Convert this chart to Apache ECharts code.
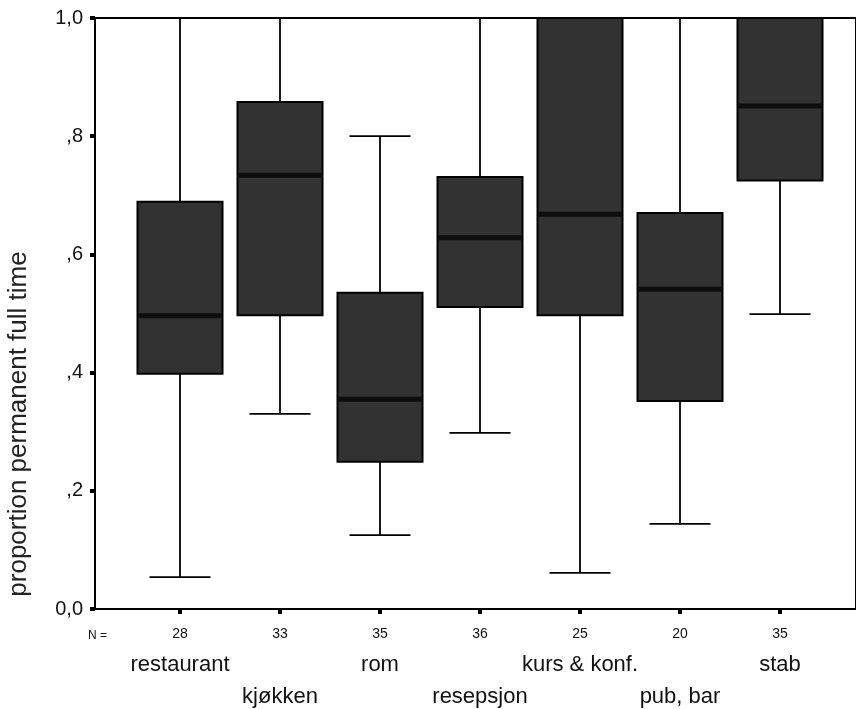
<!DOCTYPE html>
<html>
<head>
<meta charset="utf-8">
<script src="https://cdn.jsdelivr.net/npm/echarts@6/dist/echarts.min.js"></script>
<style>
    html, body { margin: 0; padding: 0; background: #fff; }
    #boxChart { width: 856px; height: 709px; }
</style>
</head>
<body>
<div id="boxChart"></div>
<script>
// categories and counts (N) under the axis
var categories = ['restaurant', 'kjøkken', 'rom', 'resepsjon', 'kurs & konf.', 'pub, bar', 'stab'];
var counts = [28, 33, 35, 36, 25, 20, 35];
// box plot values
var whiskerLow  = [0.054, 0.330, 0.125, 0.298, 0.061, 0.144, 0.499];
var q1          = [0.398, 0.497, 0.249, 0.511, 0.497, 0.352, 0.725];
var median      = [0.496, 0.734, 0.355, 0.628, 0.668, 0.541, 0.851];
var q3          = [0.689, 0.858, 0.535, 0.731, 1.000, 0.670, 1.000];
var whiskerHigh = [1.000, 1.000, 0.800, 1.000, 1.000, 1.000, 1.000];
var positions = [1, 2, 3, 4, 5, 6, 7];

var boxData = categories.map(function (c, i) {
    return [positions[i], whiskerLow[i], q1[i], median[i], q3[i], whiskerHigh[i]];
});

var boxChart = echarts.init(document.getElementById('boxChart'));

function renderBox(params, api) {
    var x = api.value(0);
    var lo = api.coord([x, api.value(1)]);
    var b1 = api.coord([x, api.value(2)]);
    var md = api.coord([x, api.value(3)]);
    var b3 = api.coord([x, api.value(4)]);
    var hi = api.coord([x, api.value(5)]);
    var unit = api.size([1, 0])[0];
    var boxW = unit * 0.85;
    var capW = unit * 0.61;
    var cx = lo[0];
    var lineStyle = { stroke: '#000', lineWidth: 1.8 };
    return {
        type: 'group',
        children: [
            { type: 'line', shape: { x1: cx, y1: hi[1], x2: cx, y2: b3[1] }, style: lineStyle },
            { type: 'line', shape: { x1: cx, y1: b1[1], x2: cx, y2: lo[1] }, style: lineStyle },
            { type: 'line', shape: { x1: cx - capW / 2, y1: hi[1], x2: cx + capW / 2, y2: hi[1] }, style: lineStyle },
            { type: 'line', shape: { x1: cx - capW / 2, y1: lo[1], x2: cx + capW / 2, y2: lo[1] }, style: lineStyle },
            {
                type: 'rect',
                shape: { x: cx - boxW / 2, y: b3[1], width: boxW, height: b1[1] - b3[1] },
                style: { fill: '#323232', stroke: '#000', lineWidth: 2 }
            },
            {
                type: 'line',
                shape: { x1: cx - boxW / 2 + 1, y1: md[1], x2: cx + boxW / 2 - 1, y2: md[1] },
                style: { stroke: '#0d0d0d', lineWidth: 5 }
            }
        ]
    };
}

var labelFont = 'Liberation Sans, Arial, sans-serif';

var option = {
    backgroundColor: '#fff',
    animation: false,
    grid: {
        left: 95,
        right: 0,
        top: 18,
        bottom: 100,
        show: true,
        borderColor: '#000',
        borderWidth: 2
    },
    xAxis: {
        type: 'value',
        min: 0.15,
        max: 7.76,
        splitLine: { show: false },
        axisLine: { lineStyle: { color: '#000', width: 2 } },
        axisTick: {
            customValues: positions,
            length: 5,
            lineStyle: { color: '#000', width: 4 }
        },
        axisLabel: {
            customValues: positions,
            margin: 14,
            color: '#111',
            formatter: function (v) {
                var i = Math.round(v) - 1;
                return '{n|' + counts[i] + '}\n{' + (i % 2 ? 'b' : 'a') + '|' + categories[i] + '}';
            },
            rich: {
                n: { fontSize: 14, lineHeight: 22, fontFamily: labelFont, color: '#111' },
                a: { fontSize: 22, lineHeight: 40, fontFamily: labelFont, color: '#111' },
                b: { fontSize: 22, lineHeight: 104, fontFamily: labelFont, color: '#111' }
            }
        }
    },
    yAxis: {
        type: 'value',
        min: 0,
        max: 1,
        interval: 0.2,
        splitLine: { show: false },
        axisLine: { show: true, lineStyle: { color: '#000', width: 2 } },
        axisTick: { length: 5, lineStyle: { color: '#000', width: 4 } },
        axisLabel: {
            margin: 12,
            fontSize: 20,
            fontFamily: labelFont,
            color: '#111',
            formatter: function (v) {
                if (v === 0) return '0,0';
                if (v === 1) return '1,0';
                return ',' + Math.round(v * 10);
            }
        }
    },
    graphic: [
        {
            type: 'text',
            x: 19,
            y: 424,
            rotation: Math.PI / 2,
            style: {
                text: 'proportion permanent full time',
                fontSize: 26,
                fontFamily: labelFont,
                fill: '#222',
                align: 'center',
                verticalAlign: 'middle'
            }
        },
        {
            type: 'text',
            x: 88,
            y: 636,
            style: {
                text: 'N =',
                fontSize: 12,
                fontFamily: labelFont,
                fill: '#111',
                verticalAlign: 'middle'
            }
        }
    ],
    series: [
        {
            type: 'custom',
            renderItem: renderBox,
            encode: { x: 0, y: [1, 2, 3, 4, 5] },
            data: boxData
        }
    ]
};

boxChart.setOption(option, true);
</script>
</body>
</html>
